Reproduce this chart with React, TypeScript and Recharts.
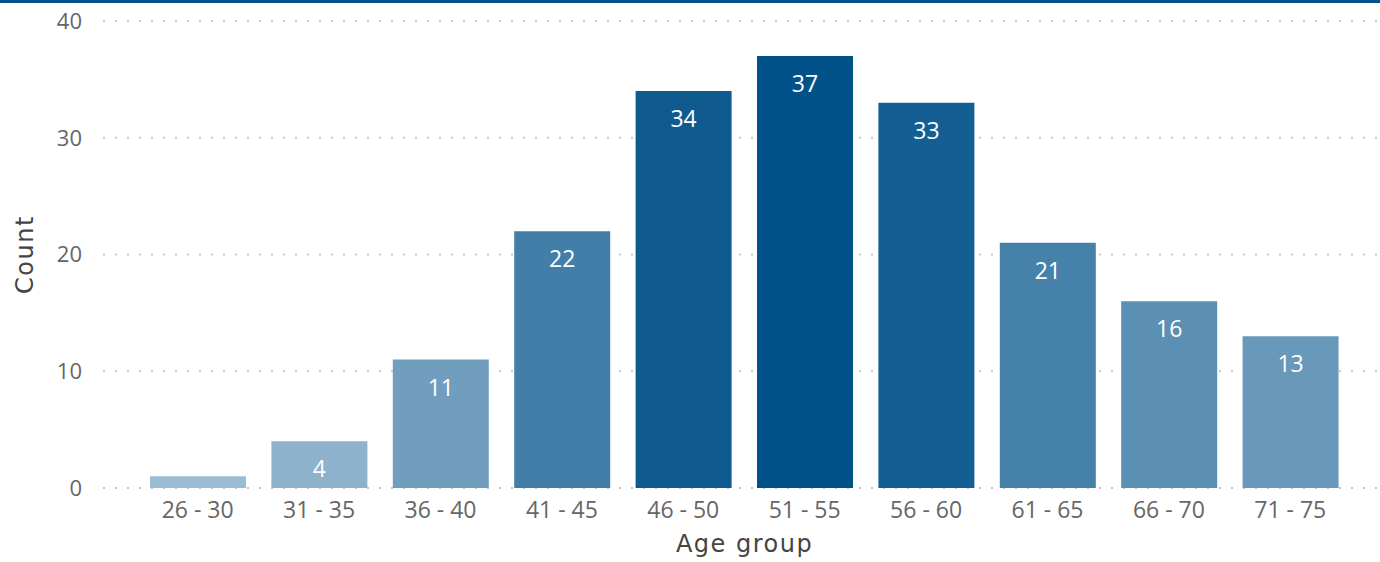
import React from "react";
import { BarChart, Bar, XAxis, YAxis, CartesianGrid, LabelList, Cell } from "recharts";

const ageGroups = ["26 - 30", "31 - 35", "36 - 40", "41 - 45", "46 - 50", "51 - 55", "56 - 60", "61 - 65", "66 - 70", "71 - 75"];
const counts = [1, 4, 11, 22, 34, 37, 33, 21, 16, 13];
const yTicks = [0, 10, 20, 30, 40];

const lo = [155, 187, 210];
const hi = [2, 82, 138];
const vMin = Math.min(...counts);
const vMax = Math.max(...counts);

// colour by value, light -> dark blue
function shade(v: number) {
  const t = (v - vMin) / (vMax - vMin);
  const c = lo.map((l, i) => Math.round(l + (hi[i] - l) * t));
  return `rgb(${c[0]},${c[1]},${c[2]})`;
}

const data = ageGroups.map((g, i) => ({ group: g, count: counts[i] }));

const tickFont = { fontFamily: "'Open Sans', sans-serif", fontSize: 22, fill: "#666666" };
const xTickFont = { ...tickFont, fontSize: 23 };
const titleFont = { fontFamily: "'DejaVu Sans', sans-serif", fontSize: 24, fill: "#444444", letterSpacing: 1.5 };

// value label inside the bar top; skipped when the bar is too short to hold it
function InsideLabel(props: any) {
  const { x, y, width, height, value } = props;
  if (height < 30) return null;
  return (
    <text
      x={x + width / 2}
      y={y + 20 + 16}
      textAnchor="middle"
      fontFamily="'Open Sans', sans-serif"
      fontSize={23}
      fill="#ffffff"
    >
      {value}
    </text>
  );
}

export default function App() {
  return (
    <div style={{ position: "absolute", left: 0, top: 0, width: 1380, height: 562, background: "#fff" }}>
      <div style={{ position: "absolute", left: 0, top: 0, width: 1380, height: 3, background: "#02528A" }} />
      <BarChart width={1380} height={562} data={data} margin={{ top: 21, right: 0, left: 0, bottom: 0 }}>
        <CartesianGrid vertical={false} stroke="#C8C8C8" strokeWidth={2} strokeDasharray="2 10" />
        <XAxis
          dataKey="group"
          axisLine={false}
          tickLine={false}
          height={74}
          tickMargin={8}
          padding={{ left: 34, right: 29 }}
          tick={xTickFont}
          label={{ value: "Age group", position: "insideBottom", offset: 10, dx: 3, style: titleFont }}
        />
        <YAxis
          domain={[0, 40]}
          ticks={yTicks}
          axisLine={false}
          tickLine={false}
          width={103}
          tickMargin={15}
          tick={tickFont}
          label={{ value: "Count", angle: -90, position: "insideLeft", offset: 24, style: { ...titleFont, textAnchor: "middle" } }}
        />
        <Bar dataKey="count" barSize={96} isAnimationActive={false}>
          {data.map((d, i) => (
            <Cell key={i} fill={shade(d.count)} />
          ))}
          <LabelList dataKey="count" content={<InsideLabel />} />
        </Bar>
      </BarChart>
    </div>
  );
}
